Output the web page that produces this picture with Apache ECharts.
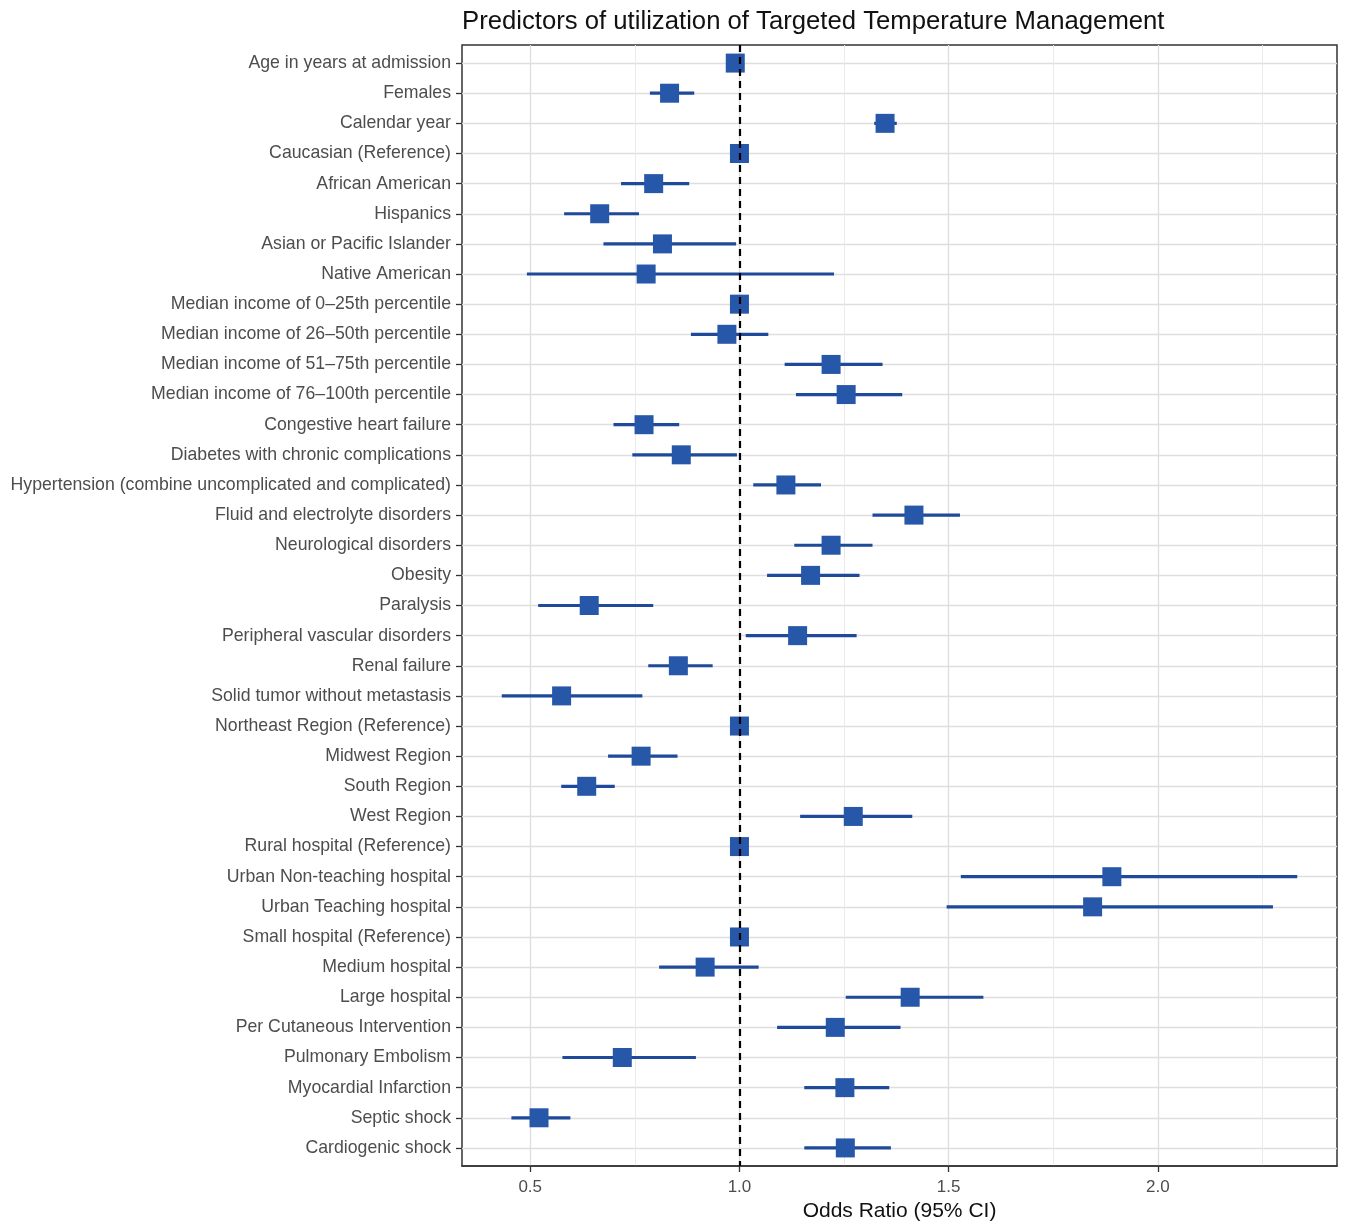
<!DOCTYPE html>
<html>
<head>
<meta charset="utf-8">
<script src="https://cdn.jsdelivr.net/npm/echarts@6/dist/echarts.min.js"></script>
<style>
html,body{margin:0;padding:0;background:#fff;}
#chart{width:1347px;height:1224px;}
</style>
</head>
<body>
<div id="chart"></div>
<script>
const categories = [
  "Age in years at admission","Females","Calendar year","Caucasian (Reference)",
  "African American","Hispanics","Asian or Pacific Islander","Native American",
  "Median income of 0\u201325th percentile","Median income of 26\u201350th percentile",
  "Median income of 51\u201375th percentile","Median income of 76\u2013100th percentile",
  "Congestive heart failure","Diabetes with chronic complications",
  "Hypertension (combine uncomplicated and complicated)","Fluid and electrolyte disorders",
  "Neurological disorders","Obesity","Paralysis","Peripheral vascular disorders",
  "Renal failure","Solid tumor without metastasis","Northeast Region (Reference)",
  "Midwest Region","South Region","West Region","Rural hospital (Reference)",
  "Urban Non-teaching hospital","Urban Teaching hospital","Small hospital (Reference)",
  "Medium hospital","Large hospital","Per Cutaneous Intervention","Pulmonary Embolism",
  "Myocardial Infarction","Septic shock","Cardiogenic shock"
];
const oddsRatio = [0.99,0.833,1.348,1.0,0.795,0.666,0.816,0.777,1.0,0.970,1.219,1.255,0.772,0.861,1.111,1.417,1.219,1.170,0.641,1.139,0.854,0.575,1.0,0.765,0.635,1.272,1.0,1.890,1.844,1.0,0.918,1.408,1.229,0.720,1.252,0.521,1.253];
const ciLower = [0.985,0.786,1.322,null,0.717,0.581,0.675,0.492,null,0.884,1.108,1.135,0.699,0.744,1.033,1.318,1.131,1.066,0.519,1.015,0.782,0.432,null,0.686,0.574,1.145,null,1.529,1.495,null,0.808,1.254,1.090,0.577,1.155,0.455,1.155];
const ciUpper = [0.995,0.892,1.376,null,0.880,0.760,0.992,1.226,null,1.069,1.342,1.389,0.856,0.994,1.195,1.527,1.318,1.287,0.794,1.280,0.936,0.768,null,0.852,0.702,1.413,null,2.333,2.275,null,1.046,1.583,1.385,0.896,1.358,0.596,1.362];
const xTicks = [0.5, 1.0, 1.5, 2.0];
const xMinorTicks = [0.75, 1.25, 1.75, 2.25];
const refLine = 1.0;

const FONT = '"Liberation Sans", Arial, sans-serif';
const allVals = oddsRatio.concat(ciLower.filter(v=>v!=null), ciUpper.filter(v=>v!=null));
const dMin = Math.min.apply(null, allVals), dMax = Math.max.apply(null, allVals);
const xMin = dMin - 0.05*(dMax-dMin), xMax = dMax + 0.05*(dMax-dMin);
const n = categories.length;

const panelTop = 45, panelBottom = 58, panelLeft = 462, panelRight = 10;
const rowH = (1224 - panelTop - panelBottom) / (n - 1 + 1.2);
const pad = 0.6 * rowH;

const ciData = [];
const pointData = [];
for (let i = 0; i < n; i++) {
  if (ciLower[i] != null) ciData.push([ciLower[i], ciUpper[i], i]);
  pointData.push([oddsRatio[i], i]);
}

const chart = echarts.init(document.getElementById('chart'), null, {renderer:'canvas'});
chart.setOption({
  animation: false,
  backgroundColor: '#fff',
  title: {
    text: 'Predictors of utilization of Targeted Temperature Management',
    left: 457, top: 4,
    textStyle: {fontFamily: FONT, fontSize: 25.7, fontWeight: 'normal', color: '#111'}
  },
  grid: [
    {left: panelLeft, right: panelRight, top: panelTop, bottom: panelBottom, show: true,
     borderColor: '#333', borderWidth: 1.5, backgroundColor: 'transparent', containLabel: false, outerBoundsMode: 'none'},
    {left: panelLeft, right: panelRight, top: panelTop + pad, bottom: panelBottom + pad,
     containLabel: false, outerBoundsMode: 'none'}
  ],
  xAxis: [
    {type: 'value', gridIndex: 0, min: xMin, max: xMax, position: 'bottom',
     name: 'Odds Ratio (95% CI)', nameLocation: 'middle', nameGap: 32,
     nameTextStyle: {fontFamily: FONT, fontSize: 21, color: '#111'},
     axisLine: {show: true, onZero: false, lineStyle: {color: '#333', width: 1.5}},
     axisTick: {show: true, length: 6, customValues: xTicks, lineStyle: {color: '#333', width: 1.3}},
     axisLabel: {customValues: xTicks, fontFamily: FONT, fontSize: 17, color: '#4d4d4d', margin: 13,
                 formatter: v => v.toFixed(1)},
     splitLine: {show: true, customValues: xTicks, lineStyle: {color: '#dedede', width: 1.3}}
    },
    {type: 'value', gridIndex: 0, min: xMin, max: xMax, position: 'top',
     axisLine: {show: false, onZero: false}, axisLabel: {show: false},
     axisTick: {show: false, customValues: xMinorTicks},
     splitLine: {show: true, customValues: xMinorTicks, lineStyle: {color: '#e8e8e8', width: 0.9}}
    },
    {type: 'value', gridIndex: 1, min: xMin, max: xMax, show: false, axisLine: {onZero: false}}
  ],
  yAxis: [
    {type: 'value', gridIndex: 0, min: -0.6, max: n - 1 + 0.6, inverse: true, show: false,
     axisLine: {onZero: false}, splitLine: {show: false}},
    {type: 'value', gridIndex: 1, min: 0, max: n - 1, interval: 1, inverse: true,
     axisLine: {show: false, onZero: false},
     axisTick: {show: true, length: 6, lineStyle: {color: '#333', width: 1.3}},
     axisLabel: {fontFamily: FONT, fontSize: 17.7, color: '#4d4d4d', margin: 11,
                 padding: [4, 0, 0, 0],
                 formatter: v => categories[Math.round(v)] || ''},
     splitLine: {show: true, lineStyle: {color: '#dedede', width: 1.3}}
    }
  ],
  series: [
    {
      type: 'custom', xAxisIndex: 0, yAxisIndex: 0, z: 2,
      data: ciData,
      encode: {x: [0, 1], y: 2},
      renderItem: function (params, api) {
        const p1 = api.coord([api.value(0), api.value(2)]);
        const p2 = api.coord([api.value(1), api.value(2)]);
        return {type: 'line', shape: {x1: p1[0], y1: p1[1], x2: p2[0], y2: p2[1]},
                style: {stroke: '#1f4a9a', lineWidth: 3.2}};
      }
    },
    {
      type: 'scatter', xAxisIndex: 0, yAxisIndex: 0, z: 3,
      data: pointData,
      symbol: 'rect', symbolSize: 19,
      itemStyle: {color: '#2757a8', opacity: 1},
      markLine: {
        silent: true, symbol: ['none', 'none'], label: {show: false},
        lineStyle: {color: '#000', type: [7, 5], width: 2.2},
        data: [{xAxis: refLine}]
      }
    }
  ]
});
</script>
</body>
</html>
